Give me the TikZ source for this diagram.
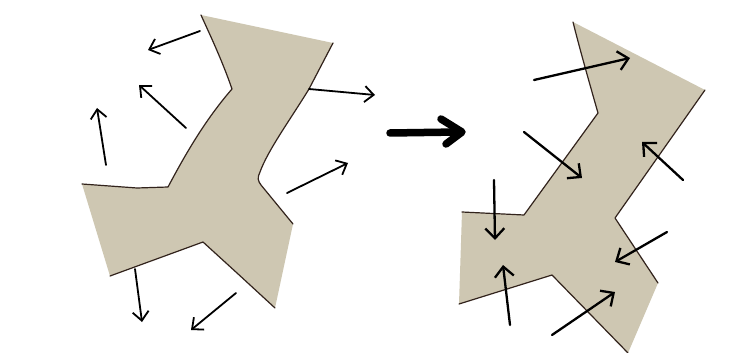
\documentclass[tikz,border=0pt]{standalone}
\usetikzlibrary{arrows.meta}
\definecolor{shapefill}{RGB}{206,199,178}
\definecolor{edgecol}{RGB}{50,35,28}
\begin{document}
\begin{tikzpicture}[x=1pt,y=-1pt,
  edge/.style={draw=edgecol,line width=1.2pt,line join=round,line cap=round},
  outarrow/.style={draw=black,line width=1.8pt,line cap=round,-{Straight Barb[length=9pt,width=16pt]}},
  inarrow/.style={draw=black,line width=2.3pt,line cap=round,-{Straight Barb[length=10pt,width=19pt]}}]
\useasboundingbox (0,0) rectangle (740,353);
\fill[white] (0,0) rectangle (740,353);
% ---------- left shape ----------
\fill[shapefill] (201,15) -- (333,43) -- (309,89) .. controls (290,120) and (268,150) .. (260,172)
  .. controls (257,178) and (258,181) .. (261,185) -- (293,224) -- (275,308) -- (237,273) -- (203,242) -- (110,276) -- (82,184)
  -- (137,188) -- (168,187) .. controls (185,155) and (205,120) .. (232,89)
  .. controls (222,60) and (210,35) .. (201,15) -- cycle;
\draw[edge] (333,43) -- (309,89) .. controls (290,120) and (268,150) .. (260,172)
  .. controls (257,178) and (258,181) .. (261,185) -- (293,224);
\draw[edge] (275,308) -- (237,273) -- (203,242) -- (110,276);
\draw[edge] (82,184) -- (137,188) -- (168,187) .. controls (185,155) and (205,120) .. (232,89)
  .. controls (222,60) and (210,35) .. (201,15);
% outward arrows
\draw[outarrow] (200,31) -- (148,50);
\draw[outarrow] (186,128) -- (139,85);
\draw[outarrow] (106,165) -- (97,108);
\draw[outarrow] (309,89) -- (375,95);
\draw[outarrow] (287,193) -- (348,163);
\draw[outarrow] (135,269) -- (142,322);
\draw[outarrow] (236,293) -- (191,330);
% ---------- middle arrow ----------
\draw[line width=7.5pt,line cap=round] (390,133) -- (458,132);
\draw[line width=7.5pt,line cap=round,line join=round] (441,119) -- (462,132) -- (446,144);
% ---------- right shape ----------
\fill[shapefill] (573,22) -- (705,90) -- (615,218) -- (658,283) -- (628,353) -- (552,275)
  -- (459,304) -- (462,212) -- (524,215) -- (598,113) .. controls (590,85) and (580,50) .. (573,22) -- cycle;
\draw[edge] (573,22) .. controls (580,50) and (590,85) .. (598,113) -- (524,215) -- (462,212);
\draw[edge] (459,304) -- (552,275) -- (628,353);
\draw[edge] (658,283) -- (615,218) -- (705,90);
% inward arrows
\draw[inarrow] (534,80) -- (630,58);
\draw[inarrow] (524,132) -- (582,178);
\draw[inarrow] (683,180) -- (642,142);
\draw[inarrow] (494,180) -- (495,240);
\draw[inarrow] (510,325) -- (503,265);
\draw[inarrow] (667,232) -- (615,262);
\draw[inarrow] (552,335) -- (615,292);
\end{tikzpicture}
\end{document}
